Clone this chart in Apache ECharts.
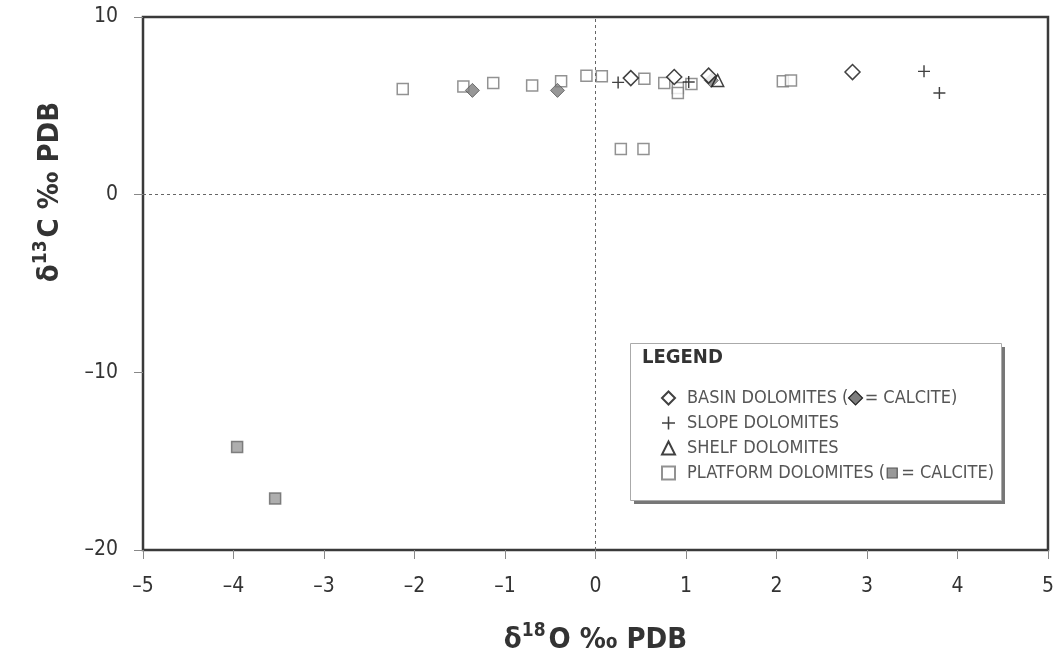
<!DOCTYPE html>
<html>
<head>
<meta charset="utf-8">
<script src="https://cdn.jsdelivr.net/npm/echarts@6/dist/echarts.min.js"></script>
<style>
html,body{margin:0;padding:0;background:#fff;}
#c{width:1057px;height:660px;}
</style>
</head>
<body>
<div id="c"></div>
<script>
// ---- data (δ18O, δ13C) ----
const xTicks = [-5,-4,-3,-2,-1,0,1,2,3,4,5];
const yTicks = [-20,-10,0,10];
const basinDolomites = [[0.39,6.56],[0.87,6.62],[1.25,6.70],[2.84,6.90]];
const basinCalcite = [[-1.36,5.87],[-0.42,5.87],[1.28,6.43]];
const slopeDolomites = [[0.25,6.32],[1.03,6.34],[3.63,6.94],[3.80,5.72]];
const shelfDolomites = [[1.35,6.43]];
const platformDolomites = [[-2.13,5.95],[-1.46,6.09],[-1.13,6.28],[-0.70,6.15],[-0.38,6.38],[-0.10,6.70],[0.07,6.66],[0.54,6.53],[0.76,6.28],[0.91,6.00],[0.91,5.72],[1.06,6.23],[2.07,6.38],[2.16,6.42],[0.28,2.57],[0.53,2.57]];
const platformCalcite = [[-3.96,-14.2],[-3.54,-17.1]];
const legendNames = ['BASIN DOLOMITES','SLOPE DOLOMITES','SHELF DOLOMITES','PLATFORM DOLOMITES'];

const FONT = '"DejaVu Sans Condensed","Liberation Sans Narrow",Arial,sans-serif';
const plusPath = 'path://M4.4,0h1.2v4.4h4.4v1.2h-4.4v4.4h-1.2v-4.4h-4.4v-1.2h4.4z';
const fmt = v => (v<0 ? '\u2013'+Math.abs(v) : String(v));

// legend layout helpers
const LG_FS = 18, LG_LEFT = 661, LG_TOP = 389, LG_ICON = 13, LG_PAD = 7, LG_GAP = 7;
const GAPSTR = '\u2002\u2002';
const mctx = document.createElement('canvas').getContext('2d');
mctx.font = LG_FS + 'px ' + FONT;
const tw = s => mctx.measureText(s).width;
const textStart = LG_LEFT + LG_ICON + 5 + LG_PAD;
const rowY = i => LG_TOP + 9 + i*25;
const dmX = textStart + tw('BASIN DOLOMITES (') + tw(GAPSTR)/2;
const sqX = textStart + tw('PLATFORM DOLOMITES (') + tw(GAPSTR)/2;

const chart = echarts.init(document.getElementById('c'), null, {renderer:'canvas'});
chart.setOption({
  animation:false,
  backgroundColor:'#fff',
  grid:{left:143,top:17,right:7,bottom:110,show:true,borderColor:'#3a3a3a',borderWidth:2.5,backgroundColor:'transparent'},
  xAxis:{
    type:'value',min:-5,max:5,interval:1,
    axisLine:{show:false,onZero:false},
    axisTick:{show:true,inside:false,length:9,lineStyle:{color:'#888',width:1}},
    splitLine:{show:false},
    axisLabel:{margin:26,fontSize:21,color:'#333',fontFamily:FONT,formatter:fmt},
    name:'{d|\u03b4}{s|18}{b|O \u2030 PDB}',
    nameLocation:'middle',nameGap:72,
    nameTextStyle:{rich:{
      d:{fontSize:29,fontWeight:'bold',color:'#333',fontFamily:FONT,verticalAlign:'bottom'},
      s:{fontSize:19,fontWeight:'bold',color:'#333',fontFamily:FONT,verticalAlign:'top',padding:[0,3,14,0]},
      b:{fontSize:29,fontWeight:'bold',color:'#333',fontFamily:FONT,verticalAlign:'bottom'}
    }}
  },
  yAxis:{
    type:'value',min:-20,max:10,interval:10,
    axisLine:{show:false,onZero:false},
    axisTick:{show:true,inside:false,length:9,lineStyle:{color:'#888',width:1}},
    splitLine:{show:false},
    axisLabel:{margin:25,fontSize:21,color:'#333',fontFamily:FONT,formatter:fmt}
  },
  legend:{
    z:100,padding:0,
    data:legendNames.map(n=>({name:n})),
    orient:'vertical',left:LG_LEFT,top:LG_TOP,
    itemWidth:LG_ICON,itemHeight:LG_ICON,itemGap:LG_GAP,
    selectedMode:false,
    textStyle:{fontSize:LG_FS,lineHeight:LG_FS,color:'#555',fontFamily:FONT,padding:[0,0,0,LG_PAD]},
    formatter:function(name){
      if(name==='BASIN DOLOMITES') return 'BASIN DOLOMITES ('+GAPSTR+'= CALCITE)';
      if(name==='PLATFORM DOLOMITES') return 'PLATFORM DOLOMITES ('+GAPSTR+'= CALCITE)';
      return name;
    }
  },
  graphic:[
    {type:'rect',left:634,top:347,shape:{width:371,height:157},z:49,silent:true,
      style:{fill:'#777'}},
    {type:'rect',left:630,top:343,shape:{width:371,height:157},z:50,silent:true,
      style:{fill:'#fff',stroke:'#aaa',lineWidth:1}},
    {type:'text',left:642,top:348,z:51,style:{text:'LEGEND',font:'bold 20px '+FONT,fill:'#333'}},
    {type:'polygon',z:120,silent:true,
      shape:{points:[[dmX,rowY(0)-7],[dmX+7,rowY(0)],[dmX,rowY(0)+7],[dmX-7,rowY(0)]]},
      style:{fill:'#7d7d7d',stroke:'#222',lineWidth:1.2}},
    {type:'rect',z:120,silent:true,
      shape:{x:sqX-5,y:rowY(3)-5,width:10,height:10},
      style:{fill:'#999',stroke:'#555',lineWidth:1.2}},
    {type:'text',z:51,x:48,y:192,rotation:Math.PI/2,
      style:{text:'{d|\u03b4}{s|13}{b|C \u2030 PDB}',align:'center',verticalAlign:'middle',
        rich:{
          d:{fontSize:29,fontWeight:'bold',fill:'#333',fontFamily:FONT,verticalAlign:'bottom'},
          s:{fontSize:19,fontWeight:'bold',fill:'#333',fontFamily:FONT,verticalAlign:'top',padding:[0,3,14,0]},
          b:{fontSize:29,fontWeight:'bold',fill:'#333',fontFamily:FONT,verticalAlign:'bottom'}
        }}}
  ],
  series:[
    {type:'scatter',name:'zero',data:[],silent:true,
      markLine:{silent:true,symbol:'none',label:{show:false},
        lineStyle:{type:[3,3],color:'#666',width:1},
        data:[{xAxis:0},{yAxis:0}]}},
    {type:'scatter',name:'PLATFORM DOLOMITES',data:platformDolomites,symbol:'rect',symbolSize:11,z:3,
      itemStyle:{color:'#fff',borderColor:'#777',borderWidth:1.5}},
    {type:'scatter',name:'PLATFORM CALCITE',data:platformCalcite,symbol:'rect',symbolSize:11,z:3,
      itemStyle:{color:'#9a9a9a',borderColor:'#666',borderWidth:1.5}},
    {type:'scatter',name:'BASIN CALCITE',data:basinCalcite,symbol:'diamond',symbolSize:14,z:4,
      itemStyle:{color:'#7d7d7d',borderColor:'#555',borderWidth:1}},
    {type:'scatter',name:'SHELF DOLOMITES',data:shelfDolomites,symbol:'triangle',symbolSize:12,z:5,
      itemStyle:{color:'rgba(255,255,255,0)',borderColor:'#111',borderWidth:1.5}},
    {type:'scatter',name:'BASIN DOLOMITES',data:basinDolomites,symbol:'diamond',symbolSize:15,z:5,
      itemStyle:{color:'#fff',borderColor:'#111',borderWidth:1.5}},
    {type:'scatter',name:'SLOPE DOLOMITES',data:slopeDolomites,symbol:plusPath,symbolSize:12,z:6,
      itemStyle:{color:'#111'}}
  ]
});
</script>
</body>
</html>
